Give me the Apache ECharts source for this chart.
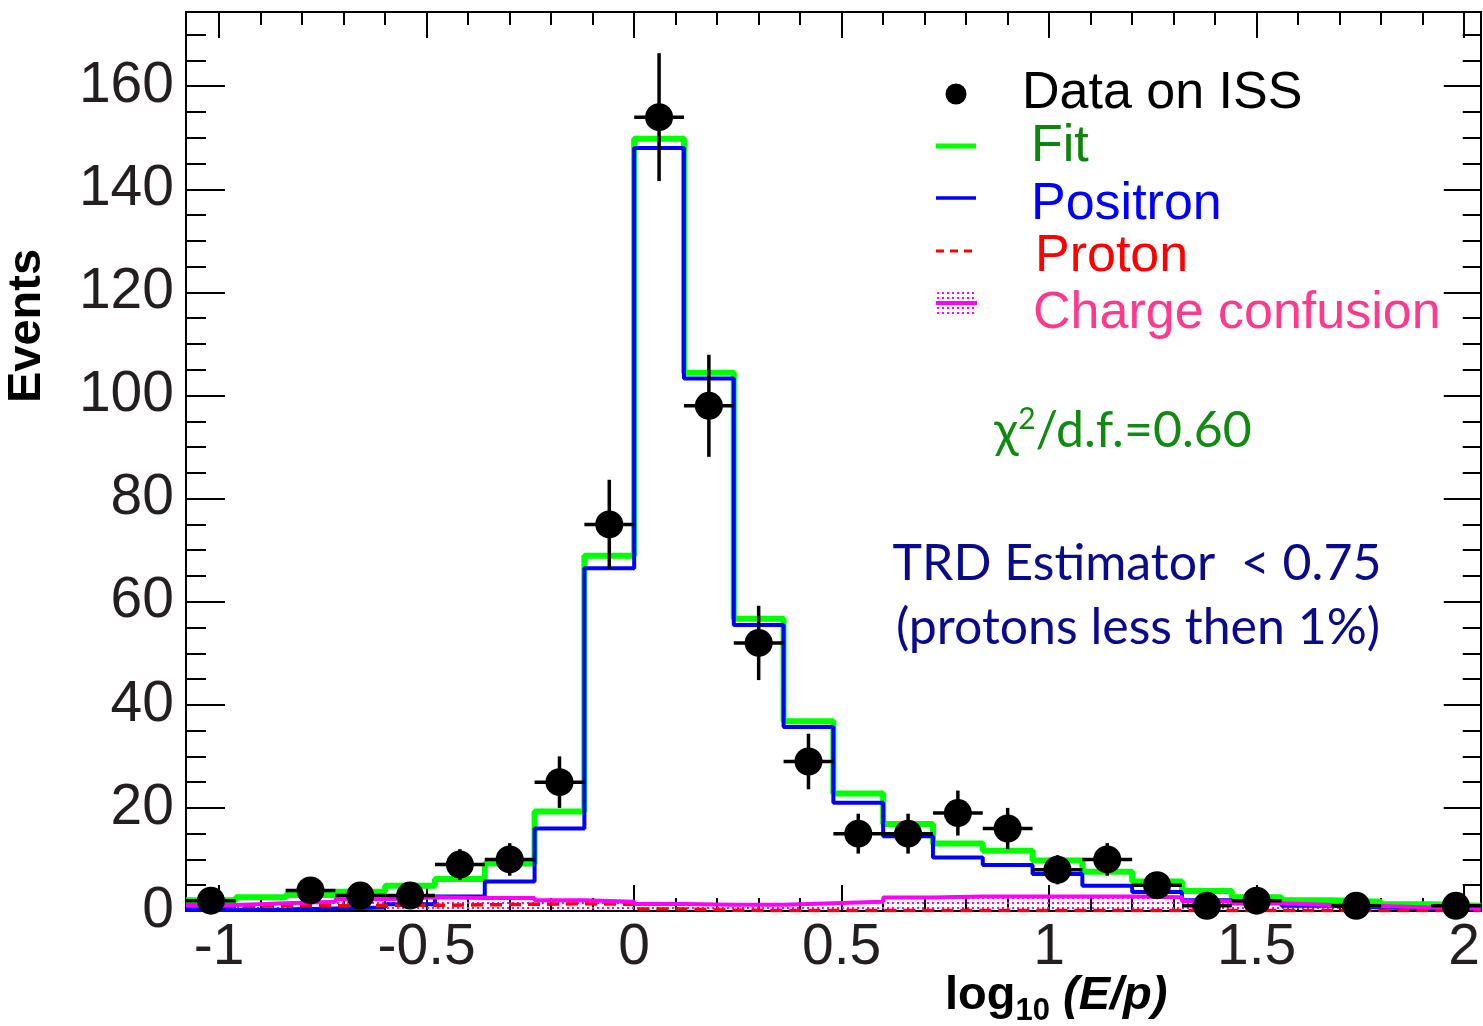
<!DOCTYPE html>
<html>
<head>
<meta charset="utf-8">
<title>log10(E/p) - Data on ISS</title>
<script src="https://cdn.jsdelivr.net/npm/echarts@6/dist/echarts.min.js"></script>
<style>
  html, body { margin: 0; padding: 0; background: #fff; }
  #chart { width: 1483px; height: 1026px; }
</style>
</head>
<body>
<div id="chart"></div>
<script>
// histogram bins in log10(E/p)
var binEdges = [-1.08, -0.96, -0.84, -0.72, -0.60, -0.48, -0.36, -0.24, -0.12, 0.00, 0.12, 0.24, 0.36,
                0.48, 0.60, 0.72, 0.84, 0.96, 1.08, 1.20, 1.32, 1.44, 1.56, 1.68, 1.80, 1.92, 2.04];
var binHalf = 0.06;

// template fit (one value per bin)
var fitCounts       = [2.1, 2.65, 3.1, 3.75, 4.9, 6.2, 9.2, 19.3, 68.9, 149.8, 104.4, 56.7, 36.8,
                       22.8, 16.9, 13.1, 11.7, 9.8, 7.6, 5.7, 3.9, 2.65, 2.1, 1.8, 1.3, 1.0];
var positronCounts  = [0.2, 0.3, 0.5, 0.7, 1.3, 2.8, 5.7, 16.0, 66.5, 148.0, 103.3, 55.5, 35.7,
                       21.0, 14.5, 10.4, 8.9, 7.2, 4.9, 3.7, 2.1, 1.5, 1.0, 0.7, 0.5, 0.3];
var protonCounts    = [0.9, 1.0, 1.0, 1.1, 1.1, 1.2, 1.3, 1.4, 1.3, 0.4, 0.15, 0.1, 0.1,
                       0.1, 0.1, 0.1, 0.1, 0.1, 0.1, 0.1, 0.1, 0.1, 0.1, 0.1, 0.1, 0.1];
var confusionCounts = [1.16, 1.5, 1.8, 2.3, 2.65, 2.5, 2.5, 2.1, 1.8, 1.35, 1.2, 1.2, 1.5,
                       1.8, 2.6, 2.8, 2.8, 2.8, 2.8, 2.65, 1.9, 1.5, 1.16, 0.97, 0.7, 0.5];

// data on ISS (non-empty bins only)
var dataX   = [-1.02, -0.78, -0.66, -0.54, -0.42, -0.30, -0.18, -0.06, 0.06, 0.18, 0.30, 0.42,
               0.54, 0.66, 0.78, 0.90, 1.02, 1.14, 1.26, 1.38, 1.50, 1.74, 1.98];
var dataY   = [2, 4, 3, 3, 9, 10, 25, 75, 154, 98, 52, 29, 15, 15, 19, 16, 8, 10, 5, 1, 2, 1, 1];
var dataErr = [1.41, 2, 1.73, 1.73, 3, 3.16, 5, 8.66, 12.41, 9.9, 7.21, 5.39, 3.87, 3.87, 4.36, 4,
               2.83, 3.16, 2.24, 1, 1.41, 1, 1];

// tick positions
var xMajorTicks = [-1, -0.5, 0, 0.5, 1, 1.5, 2];
var xMinorTicks = [-1.0, -0.9, -0.8, -0.7, -0.6, -0.5, -0.4, -0.3, -0.2, -0.1, 0, 0.1, 0.2, 0.3, 0.4, 0.5,
                   0.6, 0.7, 0.8, 0.9, 1.0, 1.1, 1.2, 1.3, 1.4, 1.5, 1.6, 1.7, 1.8, 1.9, 2.0];
var yMajorTicks = [0, 20, 40, 60, 80, 100, 120, 140, 160];
var yMinorTicks = [0, 5, 10, 15, 20, 25, 30, 35, 40, 45, 50, 55, 60, 65, 70, 75, 80, 85, 90, 95, 100,
                   105, 110, 115, 120, 125, 130, 135, 140, 145, 150, 155, 160, 165, 170];

var X_MIN = -1.08, X_MAX = 2.04, Y_MAX = 174.4;
var AXIS_FONT = "'Liberation Sans', Arial, Helvetica, sans-serif";
var NOTE_FONT = "Lato, 'Noto Sans', sans-serif";

function stepData(counts) {
    return binEdges.map(function (e, i) {
        return [e, counts[Math.min(i, counts.length - 1)]];
    });
}

// dotted fill used for charge confusion
var dotCanvas = document.createElement('canvas');
dotCanvas.width = 5; dotCanvas.height = 5;
var dctx = dotCanvas.getContext('2d');
dctx.fillStyle = '#ff00ff';
dctx.fillRect(2, 2, 2, 2);
var dotPattern = { image: dotCanvas, repeat: 'repeat' };

// text helpers (baseline placement, measured widths)
var mctx = document.createElement('canvas').getContext('2d');
function midOffset(font) {
    mctx.font = font;
    var m = mctx.measureText('Hg');
    return (m.fontBoundingBoxAscent - m.fontBoundingBoxDescent) / 2;
}
function textWidth(font, s) {
    mctx.font = font;
    return mctx.measureText(s).width;
}
function textAt(x, baseline, s, font, color, align) {
    return {
        type: 'text', x: x, y: baseline - midOffset(font), silent: true,
        style: { text: s, font: font, fill: color, align: align || 'left', verticalAlign: 'middle' }
    };
}
// pieces placed one after the other on a baseline
function pieces(cx, baseline, parts, align) {
    var total = 0;
    parts.forEach(function (p) { total += textWidth(p.font, p.text); });
    var x = align === 'left' ? cx : cx - total / 2;
    return parts.map(function (p) {
        var el = textAt(x, baseline + (p.shift || 0), p.text, p.font, p.color);
        x += textWidth(p.font, p.text);
        return el;
    });
}

function frameAxis(pos, isX, ticks, len, labels) {
    var base = {
        type: 'value', position: pos,
        min: isX ? X_MIN : 0, max: isX ? X_MAX : Y_MAX,
        axisLine: { show: true, onZero: false, lineStyle: { color: '#000', width: 2 } },
        axisTick: { show: true, inside: true, length: len, customValues: ticks,
                    lineStyle: { color: '#000', width: 2 } },
        axisLabel: { show: false },
        splitLine: { show: false }
    };
    if (labels) {
        base.axisLabel = isX
            ? { show: true, customValues: labels, fontSize: 57, fontFamily: AXIS_FONT, color: '#231f20',
                margin: 37, verticalAlign: 'middle' }
            : { show: true, customValues: labels, fontSize: 57, fontFamily: AXIS_FONT, color: '#231f20',
                margin: 12, verticalAlign: 'middle', padding: [10, 0, 0, 0] };
    }
    return base;
}

var fontData = '52px ' + AXIS_FONT;
var graphics = [];

// y title
graphics.push({
    type: 'text', x: 27, y: 326, rotation: Math.PI / 2, silent: true,
    style: { text: 'Events', font: 'bold 47px ' + AXIS_FONT, fill: '#000', align: 'center', verticalAlign: 'middle' }
});
// x title: log10 (E/p)
graphics = graphics.concat(pieces(945, 1013, [
    { text: 'log', font: 'bold 47px ' + AXIS_FONT, color: '#000' },
    { text: '10', font: 'bold 31px ' + AXIS_FONT, color: '#000', shift: 9 },
    { text: ' (E/p)', font: 'italic bold 47px ' + AXIS_FONT, color: '#000' }
], 'left'));

// legend
graphics.push({ type: 'circle', silent: true, shape: { cx: 956, cy: 94, r: 10.5 }, style: { fill: '#000' } });
graphics.push(textAt(1022, 112, 'Data on ISS', fontData, '#000'));
graphics.push({ type: 'line', silent: true, shape: { x1: 936, y1: 146, x2: 976, y2: 146 },
                style: { stroke: '#00ff00', lineWidth: 5 } });
graphics.push(textAt(1031, 165, 'Fit', fontData, '#0b850b'));
graphics.push({ type: 'line', silent: true, shape: { x1: 936, y1: 198, x2: 976, y2: 198 },
                style: { stroke: '#0000ff', lineWidth: 3.5 } });
graphics.push(textAt(1031, 223, 'Positron', fontData, '#0000ff'));
graphics.push({ type: 'line', silent: true, shape: { x1: 936, y1: 251, x2: 972, y2: 251 },
                style: { stroke: '#ff0000', lineWidth: 3, lineDash: [8, 6] } });
graphics.push(textAt(1035, 275, 'Proton', fontData, '#ff0000'));
graphics.push({ type: 'rect', silent: true, shape: { x: 936, y: 289, width: 41, height: 26 },
                style: { fill: { type: 'pattern', image: dotCanvas, repeat: 'repeat' } } });
graphics.push({ type: 'line', silent: true, shape: { x1: 936, y1: 303, x2: 977, y2: 303 },
                style: { stroke: '#ff00ff', lineWidth: 4 } });
graphics.push(textAt(1033, 332, 'Charge confusion', fontData, '#ff3a8c'));

// notes
var noteFont = '50px ' + NOTE_FONT;
graphics = graphics.concat(pieces(1123, 450, [
    { text: '\u03c7', font: noteFont, color: '#118a11' },
    { text: '2', font: '30px ' + NOTE_FONT, color: '#118a11', shift: -19 },
    { text: '/d.f.=0.60', font: noteFont, color: '#118a11' }
]));
graphics.push(textAt(1137, 583, 'TRD Estimator  < 0.75', noteFont, '#0a0a8c', 'center'));
graphics.push(textAt(1138, 647, '(protons less then 1%)', noteFont, '#0a0a8c', 'center'));

var chart = echarts.init(document.getElementById('chart'), null, { renderer: 'canvas' });
chart.setOption({
    animation: false,
    backgroundColor: '#fff',
    grid: { left: 186, top: 12, width: 1299, height: 899, containLabel: false },
    xAxis: [
        frameAxis('bottom', true, xMajorTicks, 26, xMajorTicks),
        frameAxis('bottom', true, xMinorTicks, 13),
        frameAxis('top', true, xMajorTicks, 26),
        frameAxis('top', true, xMinorTicks, 13)
    ],
    yAxis: [
        frameAxis('left', false, yMajorTicks, 39, yMajorTicks),
        frameAxis('left', false, yMinorTicks, 20),
        frameAxis('right', false, yMajorTicks, 37),
        frameAxis('right', false, yMinorTicks, 18)
    ],
    series: [
        {
            name: 'Charge confusion fill', type: 'line', step: 'end', data: stepData(confusionCounts),
            symbol: 'none', silent: true, z: 1,
            lineStyle: { width: 0 },
            areaStyle: { color: dotPattern, opacity: 1 }
        },
        {
            name: 'Fit', type: 'line', step: 'end', data: stepData(fitCounts),
            symbol: 'none', silent: true, z: 2,
            lineStyle: { color: '#00ff00', width: 6 }
        },
        {
            name: 'Positron', type: 'line', step: 'end', data: stepData(positronCounts),
            symbol: 'none', silent: true, z: 3,
            lineStyle: { color: '#0000ff', width: 4 }
        },
        {
            name: 'Proton', type: 'line', step: 'end', data: stepData(protonCounts),
            symbol: 'none', silent: true, z: 4,
            lineStyle: { color: '#ff0000', width: 3.5, type: [12, 7] }
        },
        {
            name: 'Charge confusion', type: 'line', step: 'end', data: stepData(confusionCounts),
            symbol: 'none', silent: true, z: 5,
            lineStyle: { color: '#ff00ff', width: 4 }
        },
        {
            name: 'Errors', type: 'custom', z: 6, silent: true,
            data: dataX.map(function (x, i) { return [x, dataY[i], dataErr[i]]; }),
            encode: { x: 0, y: 1 },
            renderItem: function (params, api) {
                var x = api.value(0), y = api.value(1), e = api.value(2);
                var l = api.coord([x - binHalf, y]), r = api.coord([x + binHalf, y]);
                var t = api.coord([x, y + e]), b = api.coord([x, y - e]);
                var st = { stroke: '#000', lineWidth: 3.5 };
                return {
                    type: 'group',
                    children: [
                        { type: 'line', shape: { x1: l[0], y1: l[1], x2: r[0], y2: r[1] }, style: st },
                        { type: 'line', shape: { x1: t[0], y1: t[1], x2: b[0], y2: b[1] }, style: st }
                    ]
                };
            }
        },
        {
            name: 'Data on ISS', type: 'scatter', z: 7, silent: true,
            data: dataX.map(function (x, i) { return [x, dataY[i]]; }),
            symbol: 'circle', symbolSize: 28,
            itemStyle: { color: '#000', opacity: 1 }
        }
    ],
    graphic: graphics
});
</script>
</body>
</html>
